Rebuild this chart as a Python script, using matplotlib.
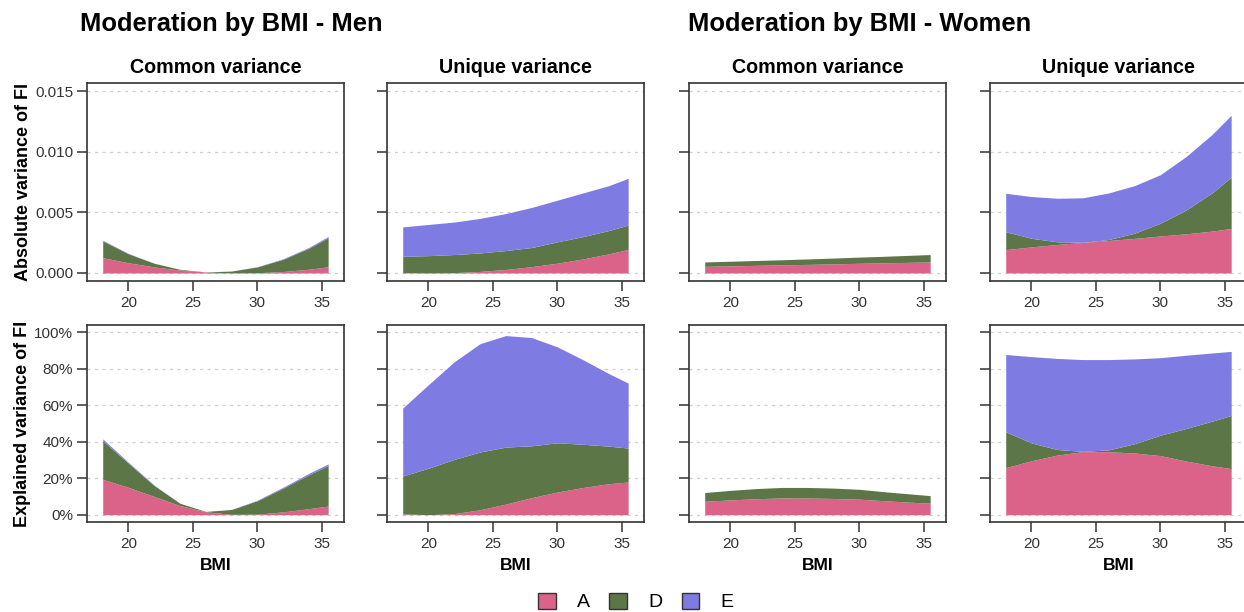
import numpy as np
import matplotlib.pyplot as plt
from matplotlib.patches import Patch
from matplotlib.ticker import FuncFormatter

plt.rcParams['font.family'] = ['Liberation Sans', 'DejaVu Sans']

# BMI grid the curves were read at
bmi = [18, 20, 22, 24, 26, 28, 30, 32, 34, 35.5]

# absolute variance components (A, D, E)
men_common_A = [0.00126, 0.00084, 0.00050, 0.00024, 0.00008, 0.00001, 0.00002, 0.00012, 0.00031, 0.00051]
men_common_D = [0.00138, 0.00074, 0.00030, 0.00006, 0.00001, 0.00015, 0.00048, 0.00101, 0.00173, 0.00240]
men_common_E = [0.00006, 0.00003, 0.00001, 0.00000, 0.00000, 0.00000, 0.00002, 0.00004, 0.00007, 0.00010]

men_unique_A = [0.00003, 0.00000, 0.00003, 0.00013, 0.00029, 0.00052, 0.00081, 0.00116, 0.00158, 0.00194]
men_unique_D = [0.00135, 0.00143, 0.00149, 0.00152, 0.00156, 0.00158, 0.00176, 0.00184, 0.00192, 0.00201]
men_unique_E = [0.00242, 0.00257, 0.00268, 0.00285, 0.00305, 0.00330, 0.00343, 0.00360, 0.00370, 0.00385]

women_common_A = [0.00055, 0.00059, 0.00063, 0.00067, 0.00071, 0.00075, 0.00080, 0.00084, 0.00088, 0.00091]
women_common_D = [0.00036, 0.00038, 0.00040, 0.00042, 0.00045, 0.00048, 0.00051, 0.00054, 0.00058, 0.00061]
women_common_E = [0.0, 0.0, 0.0, 0.0, 0.0, 0.0, 0.0, 0.0, 0.0, 0.0]

women_unique_A = [0.00193, 0.00215, 0.00235, 0.00252, 0.00268, 0.00285, 0.00305, 0.00323, 0.00345, 0.00367]
women_unique_D = [0.00147, 0.00071, 0.00022, 0.00001, 0.00008, 0.00043, 0.00105, 0.00196, 0.00314, 0.00423]
women_unique_E = [0.00317, 0.00344, 0.00359, 0.00367, 0.00384, 0.00392, 0.00400, 0.00441, 0.00481, 0.00510]

components = ['A', 'D', 'E']
colors = ['#DB6289', '#5D7648', '#7E7CE2']

panels = [
    ('Common variance', [men_common_A, men_common_D, men_common_E], 'men'),
    ('Unique variance', [men_unique_A, men_unique_D, men_unique_E], 'men'),
    ('Common variance', [women_common_A, women_common_D, women_common_E], 'women'),
    ('Unique variance', [women_unique_A, women_unique_D, women_unique_E], 'women'),
]

# total phenotypic variance per sex (common + unique) for the explained share
totals = {}
for _, comps, sex in panels:
    s = np.sum(np.array(comps), axis=0)
    totals[sex] = totals.get(sex, 0) + s

W, H = 1244, 612
fig = plt.figure(figsize=(W / 100, H / 100), dpi=100)

lefts = [87, 387, 689, 990]
pw = 257
rows = [(83, 281), (325, 522)]

axis_col = '#333333'


def style_axes(ax):
    for sp in ax.spines.values():
        sp.set_color(axis_col)
        sp.set_linewidth(1.2)
    ax.tick_params(direction='out', length=7, width=1.1, color=axis_col,
                   labelsize=11, labelcolor='#333333')
    ax.tick_params(axis='x', pad=3.5)
    ax.tick_params(axis='y', pad=3)
    ax.yaxis.grid(True, color='#cfcfcf', linestyle=(0, (2.5, 3.5)), linewidth=0.9)
    ax.set_axisbelow(True)
    ax.set_xlim(16.78, 36.73)
    ax.set_xticks([20, 25, 30, 35])


for j, (title, comps, sex) in enumerate(panels):
    x = np.array(bmi)
    for r, (top, bot) in enumerate(rows):
        ax = fig.add_axes([lefts[j] / W, 1 - bot / H, pw / W, (bot - top) / H])
        style_axes(ax)
        vals = [np.array(c) for c in comps]
        if r == 1:
            vals = [v / totals[sex] for v in vals]
        base = np.zeros_like(x, dtype=float)
        for v, col in zip(vals, colors):
            ax.fill_between(x, base, base + v, color=col, linewidth=0)
            base = base + v
        if r == 0:
            ax.set_ylim(-0.00066, 0.01566)
            ax.set_yticks([0, 0.005, 0.010, 0.015])
            ax.yaxis.set_major_formatter(FuncFormatter(lambda v, p: f'{v:.3f}'))
            ax.set_title(title, fontsize=14.2, fontweight='bold', pad=7)
        else:
            ax.set_ylim(-0.04, 1.04)
            ax.set_yticks([0, 0.2, 0.4, 0.6, 0.8, 1.0])
            ax.yaxis.set_major_formatter(FuncFormatter(lambda v, p: f'{v * 100:.0f}%'))
            ax.set_xlabel('BMI', fontsize=12.5, fontweight='bold', labelpad=5)
        if j == 0:
            ax.set_ylabel('Absolute variance of FI' if r == 0 else 'Explained variance of FI',
                          fontsize=13, fontweight='bold', labelpad=2)
        else:
            ax.set_yticklabels([])

fig.text(80 / W, 1 - 24 / H, 'Moderation by BMI - Men', fontsize=18.4,
         fontweight='bold', ha='left', va='center')
fig.text(688 / W, 1 - 24 / H, 'Moderation by BMI - Women', fontsize=18.4,
         fontweight='bold', ha='left', va='center')

handles = [Patch(facecolor=c, edgecolor='#333333', linewidth=1.0, label=n)
           for c, n in zip(colors, components)]
fig.legend(handles=handles, loc='center', bbox_to_anchor=(636 / W, 1 - 602 / H),
           ncol=3, frameon=False, fontsize=14, handlelength=0.9, handleheight=0.9,
           handletextpad=1.1, columnspacing=1.0)

fig.savefig('out.png', dpi=100)
